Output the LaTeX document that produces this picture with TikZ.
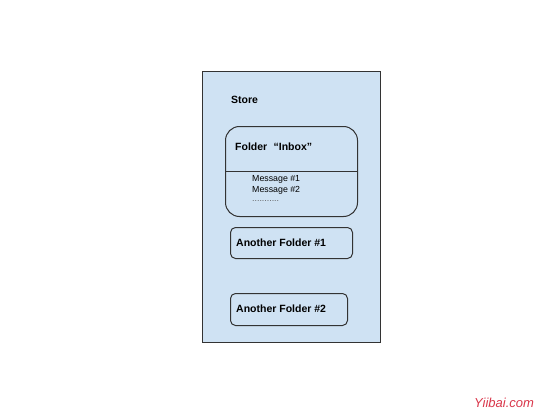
\documentclass[tikz,border=0pt]{standalone}
\usepackage{fontspec}
\setmainfont{Liberation Sans}
\definecolor{storefill}{HTML}{CFE2F3}
\definecolor{edge}{HTML}{333333}
\definecolor{wm}{HTML}{D9364A}
\begin{document}
\begin{tikzpicture}[x=1pt,y=-1pt,
  boxline/.style={draw=edge,line width=1pt},
  lbl/.style={anchor=west,inner sep=0pt,font=\bfseries\fontsize{10.5}{12}\selectfont},
  msg/.style={anchor=west,inner sep=0pt,font=\fontsize{8.8}{10}\selectfont}]
\useasboundingbox (0,0) rectangle (560,420);
\node[boxline,fill=storefill,rectangle,minimum width=178pt,minimum height=271pt,anchor=north west,inner sep=0pt] (store) at (202,71) {};
\node[lbl] (storelbl) at (231,100) {Store};
\node[boxline,rounded corners=14pt,minimum width=132pt,minimum height=90pt,anchor=north west,inner sep=0pt] (inbox) at (225,126) {};
\coordinate (divl) at (225,171);
\coordinate (divr) at (357,171);
\draw[edge,line width=0.8pt] (divl) -- (divr);
\node[lbl] (inboxlbl) at (235,147) {Folder\hspace{0.6em}“Inbox”};
\node[msg] (m1) at (252,179) {Message \#1};
\node[msg] (m2) at (252,190) {Message \#2};
\node[msg,text=edge!80] (m3) at (252,201) {...........};
\node[boxline,rounded corners=5pt,minimum width=122pt,minimum height=31pt,anchor=north west,inner sep=0pt] (f1) at (230,227) {};
\node[lbl] (f1lbl) at (236,243) {Another Folder \#1};
\node[boxline,rounded corners=5pt,minimum width=117pt,minimum height=32pt,anchor=north west,inner sep=0pt] (f2) at (230,293) {};
\node[lbl] (f2lbl) at (236,309) {Another Folder \#2};
\node[anchor=west,inner sep=0pt,text=wm,font=\itshape\fontsize{13}{15}\selectfont] (wmk) at (474,403) {Yiibai.com};
\end{tikzpicture}
\end{document}
